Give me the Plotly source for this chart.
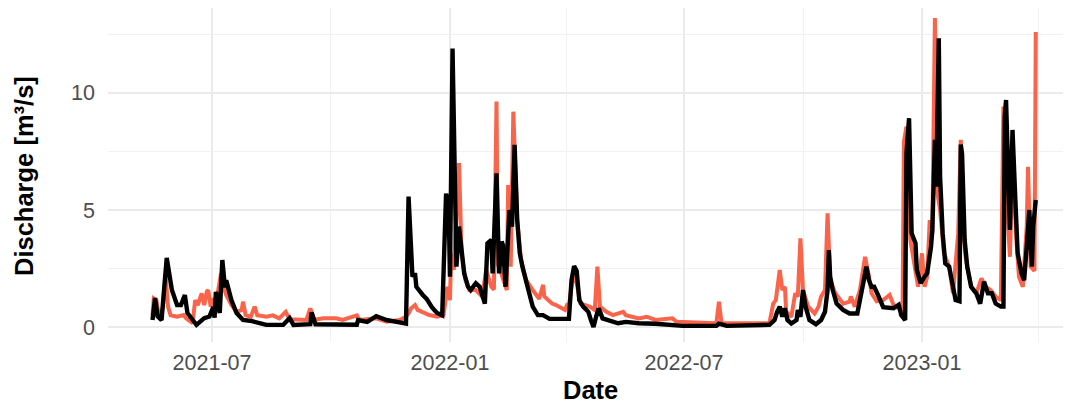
import plotly.graph_objects as go

# Observed discharge (black)
obs_dates = [
    "2021-05-16","2021-05-18","2021-05-20","2021-05-23","2021-05-27","2021-05-31","2021-06-04","2021-06-07",
    "2021-06-10","2021-06-12","2021-06-19","2021-06-21","2021-06-25","2021-06-29","2021-07-02","2021-07-03",
    "2021-07-04","2021-07-07","2021-07-09","2021-07-11","2021-07-12","2021-07-16","2021-07-20","2021-07-25",
    "2021-08-01","2021-08-12","2021-08-25","2021-08-30","2021-09-02","2021-09-15","2021-09-16","2021-09-19",
    "2021-10-21","2021-10-22","2021-10-29","2021-11-05","2021-11-13","2021-11-23","2021-11-28","2021-11-30",
    "2021-12-03","2021-12-05","2021-12-06","2021-12-11","2021-12-14","2021-12-18","2021-12-22","2021-12-26",
    "2021-12-29","2021-12-31","2022-01-01","2022-01-03","2022-01-05","2022-01-06","2022-01-08","2022-01-10",
    "2022-01-12","2022-01-15","2022-01-17","2022-01-21","2022-01-24","2022-01-28","2022-01-30","2022-02-02",
    "2022-02-03","2022-02-04","2022-02-06","2022-02-08","2022-02-10","2022-02-11","2022-02-13","2022-02-16",
    "2022-02-18","2022-02-20","2022-02-22","2022-02-24","2022-02-26","2022-03-02","2022-03-06","2022-03-10",
    "2022-03-14","2022-03-19","2022-04-03","2022-04-05","2022-04-07","2022-04-09","2022-04-11","2022-04-14",
    "2022-04-18","2022-04-20","2022-04-22","2022-04-24","2022-04-26","2022-04-29","2022-05-04","2022-05-11",
    "2022-05-17","2022-05-27","2022-06-09","2022-06-22","2022-06-30","2022-07-18","2022-07-26","2022-07-28",
    "2022-08-03","2022-09-05","2022-09-09","2022-09-11","2022-09-13","2022-09-15","2022-09-17","2022-09-19",
    "2022-09-22","2022-09-26","2022-09-27","2022-09-29","2022-10-01","2022-10-03","2022-10-06","2022-10-11",
    "2022-10-15","2022-10-18","2022-10-20","2022-10-21","2022-10-22","2022-10-24","2022-10-27","2022-11-01",
    "2022-11-06","2022-11-12","2022-11-15","2022-11-17","2022-11-19","2022-11-21","2022-11-23","2022-11-25",
    "2022-11-28","2022-12-02","2022-12-10","2022-12-14","2022-12-16","2022-12-19","2022-12-20","2022-12-22",
    "2022-12-24","2022-12-27","2022-12-28","2022-12-31","2023-01-03","2023-01-05","2023-01-08","2023-01-09",
    "2023-01-11","2023-01-12","2023-01-14","2023-01-15","2023-01-17","2023-01-19","2023-01-22","2023-01-25",
    "2023-01-27","2023-01-30","2023-01-31","2023-02-01","2023-02-03","2023-02-05","2023-02-08","2023-02-12",
    "2023-02-15","2023-02-18","2023-02-21","2023-02-24","2023-02-27","2023-03-03","2023-03-05","2023-03-06",
    "2023-03-07","2023-03-10","2023-03-11","2023-03-12","2023-03-14","2023-03-16","2023-03-19","2023-03-21",
    "2023-03-23","2023-03-25","2023-03-27","2023-03-28","2023-03-30",
]
obs_values = [
    0.30,1.24,0.45,0.30,2.95,1.58,0.94,0.94,
    1.37,0.60,0.09,0.20,0.38,0.45,0.85,0.40,
    1.50,0.60,2.86,1.70,2.00,1.15,0.60,0.30,
    0.25,0.09,0.09,0.38,0.09,0.12,0.62,0.12,
    0.10,0.30,0.22,0.46,0.30,0.20,0.15,5.57,
    2.15,2.30,1.72,1.37,1.20,0.85,0.60,0.50,
    5.70,5.14,2.15,11.90,4.57,2.58,4.29,3.15,
    2.29,1.72,1.58,1.87,1.72,1.00,3.58,3.72,
    2.29,3.72,6.57,2.29,3.65,3.50,1.72,5.00,
    4.29,7.78,4.57,3.15,2.58,1.72,0.87,0.51,
    0.51,0.35,0.35,2.00,2.60,2.40,1.15,0.87,
    0.65,0.30,0.00,0.44,0.80,0.37,0.30,0.16,
    0.22,0.16,0.14,0.09,0.05,0.05,0.05,0.14,
    0.05,0.09,0.30,0.65,0.87,0.44,0.80,0.30,
    0.15,0.30,0.73,0.44,1.58,0.87,0.30,0.12,
    0.30,0.65,1.58,3.29,2.15,1.58,1.00,0.73,
    0.58,0.58,1.58,2.00,2.58,2.00,1.72,1.72,
    1.37,0.85,0.80,0.95,0.50,0.30,7.42,8.92,
    4.00,3.58,2.44,1.87,2.15,2.29,3.43,4.15,
    8.00,6.00,12.34,6.43,4.00,2.72,2.58,1.72,
    1.15,1.10,7.80,7.40,3.72,2.58,1.72,1.44,
    1.00,1.94,1.44,1.44,1.00,0.87,0.87,9.00,
    9.70,4.15,6.57,8.42,5.70,3.15,2.29,2.00,
    3.43,5.00,2.58,4.29,5.43,
]

# Simulated discharge (red)
sim_dates = [
    "2021-05-16","2021-05-17","2021-05-19","2021-05-21","2021-05-24","2021-05-26","2021-05-28","2021-05-30",
    "2021-06-04","2021-06-09","2021-06-11","2021-06-16","2021-06-18","2021-06-20","2021-06-23","2021-06-25",
    "2021-06-27","2021-06-28","2021-06-30","2021-07-02","2021-07-04","2021-07-06","2021-07-08","2021-07-10",
    "2021-07-12","2021-07-16","2021-07-20","2021-07-24","2021-07-25","2021-07-27","2021-07-31","2021-08-03",
    "2021-08-05","2021-08-12","2021-08-17","2021-08-22","2021-08-27","2021-08-30","2021-09-12","2021-09-15",
    "2021-09-18","2021-09-25","2021-10-05","2021-10-10","2021-10-21","2021-10-23","2021-11-05","2021-11-13",
    "2021-11-23","2021-11-28","2021-11-30","2021-12-02","2021-12-05","2021-12-07","2021-12-11","2021-12-16",
    "2021-12-22","2021-12-27","2021-12-30","2022-01-01","2022-01-02","2022-01-04","2022-01-08","2022-01-10",
    "2022-01-13","2022-01-16","2022-01-21","2022-01-26","2022-01-29","2022-02-02","2022-02-04","2022-02-06",
    "2022-02-07","2022-02-11","2022-02-14","2022-02-15","2022-02-17","2022-02-19","2022-02-22","2022-02-25",
    "2022-03-01","2022-03-06","2022-03-11","2022-03-14","2022-03-15","2022-03-21","2022-03-24","2022-03-31",
    "2022-04-02","2022-04-03","2022-04-06","2022-04-09","2022-04-12","2022-04-19","2022-04-23","2022-04-25",
    "2022-04-27","2022-05-02","2022-05-07","2022-05-15","2022-05-17","2022-05-27","2022-06-02","2022-06-09",
    "2022-06-22","2022-06-25","2022-07-26","2022-07-28","2022-07-30","2022-09-05","2022-09-08","2022-09-10",
    "2022-09-13","2022-09-15","2022-09-17","2022-09-18","2022-09-22","2022-09-25","2022-09-27","2022-09-29",
    "2022-10-01","2022-10-05","2022-10-10","2022-10-13","2022-10-15","2022-10-18","2022-10-20","2022-10-22",
    "2022-10-26","2022-11-01","2022-11-06","2022-11-07","2022-11-10","2022-11-14","2022-11-18","2022-11-21",
    "2022-11-23","2022-11-27","2022-12-02","2022-12-07","2022-12-10","2022-12-14","2022-12-17","2022-12-18",
    "2022-12-20","2022-12-23","2022-12-26","2022-12-29","2023-01-01","2023-01-03","2023-01-05","2023-01-07",
    "2023-01-09","2023-01-11","2023-01-13","2023-01-15","2023-01-18","2023-01-22","2023-01-25","2023-01-27",
    "2023-01-29","2023-01-31","2023-02-02","2023-02-04","2023-02-08","2023-02-12","2023-02-16","2023-02-19",
    "2023-02-23","2023-02-27","2023-03-03","2023-03-05","2023-03-07","2023-03-10","2023-03-12","2023-03-15",
    "2023-03-17","2023-03-20","2023-03-23","2023-03-24","2023-03-26","2023-03-29","2023-03-30",
]
sim_values = [
    0.51,1.22,1.15,0.44,0.80,2.30,0.87,0.50,
    0.44,0.51,0.37,0.16,1.15,0.94,1.44,0.94,
    1.51,1.58,0.87,1.22,1.00,1.72,2.29,1.72,
    1.37,0.94,0.65,0.73,1.08,0.51,0.44,0.87,
    0.50,0.44,0.50,0.37,0.65,0.33,0.30,0.80,
    0.30,0.37,0.37,0.30,0.50,0.30,0.37,0.23,
    0.30,0.44,0.58,0.80,0.94,0.73,0.65,0.51,
    0.44,0.51,1.72,1.15,3.15,2.44,7.00,3.15,
    2.00,1.58,1.58,1.30,2.44,1.72,1.60,9.63,
    2.72,2.00,1.58,6.07,2.58,9.20,4.57,2.86,
    2.00,1.58,1.20,1.80,1.30,1.00,0.94,0.73,
    1.00,0.90,2.15,1.87,1.00,0.87,0.73,2.58,
    0.87,0.65,0.51,0.65,0.50,0.37,0.44,0.30,
    0.37,0.23,0.16,1.08,0.16,0.16,1.00,1.15,
    2.44,1.58,1.72,0.65,0.44,1.44,1.30,3.79,
    1.58,0.87,0.58,0.87,1.30,1.58,4.86,2.00,
    1.44,1.00,1.08,1.30,0.87,1.58,3.00,2.15,
    1.44,1.10,1.15,1.37,0.94,0.80,0.70,7.90,
    8.56,3.72,2.58,1.72,3.15,1.72,2.15,4.57,
    4.00,13.20,5.70,5.00,3.15,2.58,1.44,2.86,
    4.00,8.00,4.00,2.86,1.72,1.44,2.08,1.72,
    1.58,1.30,1.15,9.42,6.00,3.00,7.14,3.72,
    2.15,1.72,4.29,6.85,2.58,2.40,12.60,
]

y_tick_vals = [0, 5, 10]
y_tick_text = ["0", "5", "10"]

RED = "#F9644A"
GRID = "#EBEBEB"
FONT = "Liberation Sans, Arial, sans-serif"

fig = go.Figure()
fig.add_trace(go.Scatter(x=sim_dates, y=sim_values, mode="lines",
                         line=dict(color=RED, width=4), showlegend=False))
fig.add_trace(go.Scatter(x=obs_dates, y=obs_values, mode="lines",
                         line=dict(color="black", width=4.4), showlegend=False))

fig.update_layout(
    width=1071, height=402,
    margin=dict(l=100, r=0, t=0, b=68),
    paper_bgcolor="white", plot_bgcolor="white",
    font=dict(family=FONT, color="#4D4D4D", size=21),
    xaxis=dict(
        range=["2021-04-11 14:00", "2023-05-02 10:00"],
        type="date",
        tick0="2021-01-01", dtick="M6", tickformat="%Y-%m",
        showgrid=True, gridcolor=GRID, gridwidth=1.8,
        minor=dict(dtick="M3", tick0="2021-01-01", showgrid=True, gridcolor="#F1F1F1", gridwidth=1.2),
        zeroline=False, showline=False, ticks="",
        ticklabelstandoff=5,
        tickfont=dict(size=21.5, color="#4D4D4D"),
    ),
    yaxis=dict(
        range=[-0.64, 13.63],
        tickvals=y_tick_vals, ticktext=y_tick_text,
        showgrid=True, gridcolor=GRID, gridwidth=1.8,
        minor=dict(tickvals=[2.5, 7.5, 12.5], showgrid=True, gridcolor="#F1F1F1", gridwidth=1.2),
        zeroline=False, showline=False, ticks="",
        ticklabelstandoff=12,
        tickfont=dict(size=21.5, color="#4D4D4D"),
    ),
    annotations=[
        dict(text="<b>Discharge [m³/s]</b>", xref="paper", yref="paper",
             x=(16 - 100) / 971, y=(334 - 168) / 334, xanchor="center", yanchor="middle",
             textangle=-90, showarrow=False,
             font=dict(size=25.5, color="black", family=FONT)),
        dict(text="<b>Date</b>", xref="paper", yref="paper",
             x=0.4964, y=-48 / 334, xanchor="center", yanchor="middle",
             showarrow=False,
             font=dict(size=25.5, color="black", family=FONT)),
    ],
)

fig.write_html("out.html")
